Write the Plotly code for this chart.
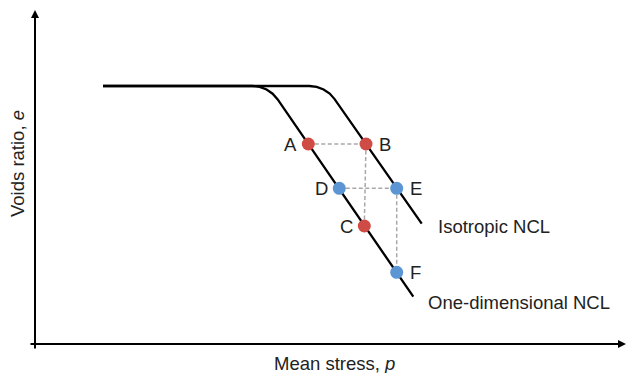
import plotly.graph_objects as go

# Normal compression lines (mean stress p, voids ratio e), arbitrary units
one_dim_p = [0.68, 2.174, 2.247, 2.316, 2.376, 2.425, 3.783]
one_dim_e = [2.58, 2.580, 2.571, 2.545, 2.503, 2.448, 0.473]

iso_p = [0.68, 2.744, 2.817, 2.886, 2.947, 2.996, 3.867]
iso_e = [2.58, 2.580, 2.571, 2.545, 2.504, 2.449, 1.203]

# State points
pt_names = ["A", "B", "C", "D", "E", "F"]
pt_p = [2.733, 3.310, 3.293, 3.043, 3.617, 3.617]
pt_e = [2.000, 2.000, 1.180, 1.557, 1.557, 0.717]
pt_group = ["red", "red", "red", "blue", "blue", "blue"]
pt_side = ["left", "right", "left", "left", "right", "right"]

# Stress paths joining the points (dashed)
paths = [("A", "B"), ("B", "C"), ("D", "E"), ("E", "F")]

RED = "#CF4B46"
BLUE = "#5B95D3"
FONT = "Liberation Sans, Arial, sans-serif"
TXT = "#222222"
FS = 18.5

fig = go.Figure()

idx = {n: i for i, n in enumerate(pt_names)}
for a, b in paths:
    fig.add_trace(go.Scatter(
        x=[pt_p[idx[a]], pt_p[idx[b]]], y=[pt_e[idx[a]], pt_e[idx[b]]],
        mode="lines", line=dict(color="#A8A8A8", width=1.5, dash="4px,2.5px"),
        hoverinfo="skip"))

fig.add_trace(go.Scatter(x=iso_p, y=iso_e, mode="lines",
                         line=dict(color="black", width=2.3), hoverinfo="skip"))
fig.add_trace(go.Scatter(x=one_dim_p, y=one_dim_e, mode="lines",
                         line=dict(color="black", width=2.3), hoverinfo="skip"))

fig.add_trace(go.Scatter(
    x=pt_p, y=pt_e, mode="markers",
    marker=dict(size=13, color=[RED if g == "red" else BLUE for g in pt_group],
                line=dict(width=0)),
    hoverinfo="skip"))

annotations = []
for n, p, e, s in zip(pt_names, pt_p, pt_e, pt_side):
    annotations.append(dict(
        x=p, y=e, text=n, showarrow=False,
        xshift=-18 if s == "left" else 19,
        font=dict(family=FONT, size=FS, color=TXT)))

# Line labels placed off the ends of the lines
annotations.append(dict(x=iso_p[-1], y=iso_e[-1], text="Isotropic NCL",
                        xanchor="left", showarrow=False, xshift=14, yshift=-3,
                        font=dict(family=FONT, size=FS, color=TXT)))
annotations.append(dict(x=one_dim_p[-1], y=one_dim_e[-1], text="One-dimensional NCL",
                        xanchor="left", showarrow=False, xshift=13, yshift=-6,
                        font=dict(family=FONT, size=FS, color=TXT)))

# Axes drawn as arrows from the origin
annotations.append(dict(x=0, y=3.34, ax=0, ay=-0.06, axref="x", ayref="y",
                        xref="x", yref="y", text="", showarrow=True,
                        arrowhead=2, arrowsize=0.8, arrowwidth=2,
                        arrowcolor="black", standoff=0))
annotations.append(dict(x=5.91, y=0, ax=-0.06, ay=0, axref="x", ayref="y",
                        xref="x", yref="y", text="", showarrow=True,
                        arrowhead=2, arrowsize=0.8, arrowwidth=2,
                        arrowcolor="black", standoff=0))

# Axis titles
annotations.append(dict(x=2.99, y=-0.19, text="Mean stress, <i>p</i>",
                        showarrow=False, font=dict(family=FONT, size=FS, color=TXT)))
annotations.append(dict(x=-0.18, y=1.80, text="Voids ratio, <i>e</i>",
                        textangle=-90, showarrow=False,
                        font=dict(family=FONT, size=FS, color=TXT)))

fig.update_layout(
    width=627, height=373,
    margin=dict(l=0, r=0, t=0, b=0),
    paper_bgcolor="white", plot_bgcolor="white",
    showlegend=False,
    xaxis=dict(range=[-0.35, 5.92], visible=False, fixedrange=True),
    yaxis=dict(range=[-0.29, 3.44], visible=False, fixedrange=True),
    annotations=annotations,
)

fig.write_html("out.html")
